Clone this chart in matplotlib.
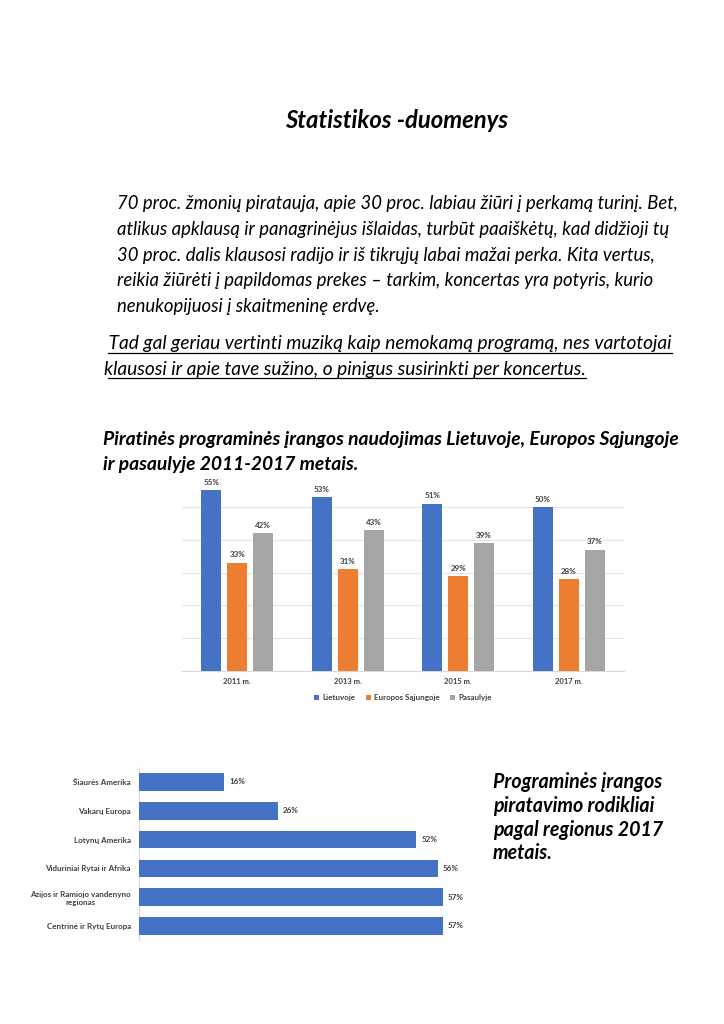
import matplotlib
matplotlib.use("Agg")
from matplotlib import pyplot as plt
from matplotlib.lines import Line2D
import numpy as np

W, H = 724, 1024

# data
years = ['2011 m.', '2013 m.', '2015 m.', '2017 m.']
lietuvoje = [55, 53, 51, 50]
europos_sajungoje = [33, 31, 29, 28]
pasaulyje = [42, 43, 39, 37]
series_names = ['Lietuvoje', 'Europos Sąjungoje', 'Pasaulyje']

regions = ['Šiaurės Amerika', 'Vakarų Europa', 'Lotynų Amerika',
           'Viduriniai Rytai ir Afrika', 'Azijos ir Ramiojo vandenyno\nregionas',
           'Centrinė ir Rytų Europa']
region_rates = [16, 26, 52, 56, 57, 57]

title = 'Statistikos -duomenys'
paragraph = [
    '70 proc. žmonių piratauja, apie 30 proc. labiau žiūri į perkamą turinį. Bet,',
    'atlikus apklausą ir panagrinėjus išlaidas, turbūt paaiškėtų, kad didžioji tų',
    '30 proc. dalis klausosi radijo ir iš tikrųjų labai mažai perka. Kita vertus,',
    'reikia žiūrėti į papildomas prekes – tarkim, koncertas yra potyris, kurio',
    'nenukopijuosi į skaitmeninę erdvę.',
]
underlined = [
    ' Tad gal geriau vertinti muziką kaip nemokamą programą, nes vartotojai',
    'klausosi ir apie tave sužino, o pinigus susirinkti per koncertus.',
]
heading1 = ['Piratinės programinės įrangos naudojimas Lietuvoje, Europos Sąjungoje',
            'ir pasaulyje 2011-2017 metais.']
heading2 = ['Programinės įrangos', 'piratavimo rodikliai',
            'pagal regionus 2017', 'metais.']

BLUE, ORANGE, GRAY = '#4472C4', '#ED7D31', '#A5A5A5'
TXT = '#404040'
FONT = ['Lato', 'DejaVu Sans']

plt.rcParams['font.family'] = FONT


def fx(x):
    return x / W


def fy(y):
    return 1 - y / H


fig = plt.figure(figsize=(W / 100, H / 100), dpi=100)

# page text
fig.text(fx(397), fy(128), title, ha='center', va='baseline',
         fontsize=17.2, fontweight='bold', style='italic')

for i, line in enumerate(paragraph):
    fig.text(fx(117), fy(209 + i * 25.8), line, ha='left', va='baseline',
             fontsize=13.35, style='italic')

ul_texts = []
for i, line in enumerate(underlined):
    t = fig.text(fx(104), fy(349 + i * 25.5), line, ha='left', va='baseline',
                 fontsize=13.75, style='italic')
    ul_texts.append((t, 352.5 + i * 25.5))

for i, line in enumerate(heading1):
    fig.text(fx(103), fy(445 + i * 25), line, ha='left', va='baseline',
             fontsize=13.9, fontweight='bold', style='italic')

for i, line in enumerate(heading2):
    fig.text(fx(493), fy(788 + i * 23.8), line, ha='left', va='baseline',
             fontsize=14.1, fontweight='bold', style='italic')

# top chart: grouped bars
ax = fig.add_axes([fx(182), fy(671), (624 - 182) / W, (671 - 474) / H])
x = np.arange(len(years))
step = 0.234
bw = 0.18
for k, (vals, col) in enumerate(zip([lietuvoje, europos_sajungoje, pasaulyje],
                                    [BLUE, ORANGE, GRAY])):
    pos = x + (k - 1) * step
    ax.bar(pos, vals, width=bw, color=col, label=series_names[k], zorder=3)
    for p, v in zip(pos, vals):
        ax.text(p, v + 1.3, f'{v}%', ha='center', va='bottom',
                fontsize=5.8, fontweight='bold', color=TXT)
ax.set_xlim(-0.5, 3.5)
ax.set_ylim(0, 60)
ax.set_yticks([10, 20, 30, 40, 50])
ax.yaxis.grid(True, color='#E4E4E4', linewidth=0.8, zorder=0)
ax.tick_params(axis='y', left=False, labelleft=False)
ax.set_xticks(x)
ax.set_xticklabels(years, fontsize=5.5, fontweight='bold', color=TXT)
ax.tick_params(axis='x', length=0, pad=5)
for s in ['top', 'right', 'left']:
    ax.spines[s].set_visible(False)
ax.spines['bottom'].set_color('#D9D9D9')
ax.spines['bottom'].set_linewidth(0.8)
ax.legend(loc='upper center', bbox_to_anchor=(0.5, -0.08), ncol=3,
          frameon=False, prop={'size': 5.8, 'weight': 'bold'},
          handlelength=0.6, handleheight=0.6, columnspacing=1.3,
          handletextpad=0.4, labelcolor=TXT)

# bottom chart: horizontal bars
ax2 = fig.add_axes([fx(139), fy(940.4), (459 - 139) / W, (940.4 - 767.6) / H])
y = np.arange(len(regions))
ax2.barh(y, region_rates, height=0.61, color=BLUE, zorder=3)
for yy, v in zip(y, region_rates):
    ax2.text(v + 0.9, yy, f'{v}%', ha='left', va='center',
             fontsize=5.8, fontweight='bold', color=TXT)
ax2.set_ylim(len(regions) - 0.5, -0.5)
ax2.set_xlim(0, 60)
ax2.set_yticks(y)
ax2.set_yticklabels(regions, fontsize=5.8, fontweight='bold', color=TXT,
                    multialignment='center')
ax2.tick_params(axis='y', length=0, pad=6)
ax2.tick_params(axis='x', bottom=False, labelbottom=False)
for s in ['top', 'right', 'bottom']:
    ax2.spines[s].set_visible(False)
ax2.spines['left'].set_color('#D9D9D9')
ax2.spines['left'].set_linewidth(0.8)

# underline the second paragraph
fig.canvas.draw()
for t, uy in ul_texts:
    bb = t.get_window_extent()
    fig.add_artist(Line2D([bb.x0 / W + fx(4), bb.x1 / W], [fy(uy), fy(uy)],
                          transform=fig.transFigure, color='black',
                          linewidth=0.9))

fig.savefig('out.png', dpi=100)
